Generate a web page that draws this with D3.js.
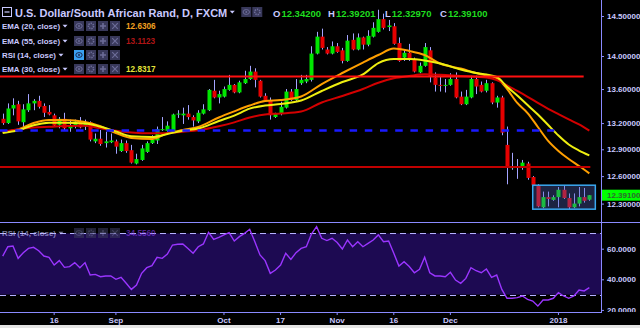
<!DOCTYPE html>
<html>
<head>
<meta charset="utf-8">
<script src="https://cdn.jsdelivr.net/npm/d3@7"></script>
<style>
  body { margin: 0; background: #000; }
  svg { display: block; }
  text { font-family: "Liberation Sans", Arial, sans-serif; }
</style>
</head>
<body>
<svg id="chart" width="640" height="328"></svg>
<script>
// USD/ZAR daily candles (first candle 2 Aug 2017)
const startDate = new Date(2017, 7, 2);
const opens = [13.25,13.20,13.37,13.42,13.21,13.35,13.43,13.46,13.40,13.33,
  13.29,13.18,13.25,13.14,13.17,13.22,13.16,13.21,12.99,13.02,
  12.97,12.98,12.99,12.88,12.97,12.89,12.74,12.78,12.87,12.97,
  13.00,13.12,13.11,13.11,13.30,13.29,13.31,13.27,13.22,13.31,
  13.35,13.58,13.50,13.51,13.59,13.65,13.56,13.67,13.72,13.81,
  13.70,13.52,13.47,13.27,13.31,13.38,13.57,13.47,13.67,13.69,
  13.71,14.03,14.24,14.08,14.03,14.12,14.07,13.94,14.20,14.08,
  14.23,14.14,14.24,14.30,14.46,14.36,14.37,14.16,13.98,14.04,
  13.96,13.80,13.88,14.07,13.74,13.65,13.64,13.65,13.72,13.51,
  13.42,13.50,13.72,13.65,13.58,13.67,13.44,13.50,12.95,12.70,
  12.70,12.70,12.74,12.59,12.50,12.26,12.37,12.34,12.37,12.45,
  12.36,12.26,12.30,12.37,12.342];
const highs = [13.31,13.43,13.49,13.46,13.42,13.54,13.48,13.52,13.43,13.41,
  13.31,13.27,13.32,13.24,13.24,13.27,13.24,13.22,13.08,13.12,
  13.10,13.08,13.01,13.01,13.00,12.95,12.85,12.95,12.99,13.06,
  13.16,13.27,13.22,13.31,13.35,13.38,13.41,13.29,13.35,13.42,
  13.60,13.71,13.58,13.63,13.77,13.66,13.70,13.82,13.88,13.85,
  13.71,13.55,13.50,13.32,13.45,13.60,13.60,13.72,13.77,13.77,
  14.12,14.30,14.34,14.11,14.18,14.16,14.10,14.26,14.28,14.28,
  14.24,14.32,14.42,14.58,14.53,14.45,14.41,14.23,14.08,14.15,
  13.98,13.92,14.16,14.11,13.80,13.76,13.72,13.79,13.80,13.57,
  13.59,13.76,13.76,13.69,13.71,13.68,13.52,13.52,13.16,12.86,
  12.79,12.78,12.76,12.60,12.51,12.43,12.43,12.39,12.48,12.50,
  12.41,12.41,12.48,12.47,12.39201];
const lows = [13.18,13.19,13.29,13.18,13.12,13.33,13.35,13.37,13.27,13.29,
  13.16,13.14,13.12,13.10,13.14,13.14,13.12,12.99,12.97,12.94,
  12.92,12.97,12.85,12.87,12.86,12.74,12.73,12.77,12.86,12.96,
  12.96,13.11,13.10,13.10,13.26,13.19,13.24,13.16,13.20,13.30,
  13.34,13.49,13.43,13.50,13.58,13.55,13.55,13.66,13.71,13.62,
  13.50,13.45,13.24,13.26,13.29,13.37,13.46,13.46,13.65,13.67,
  13.69,14.02,14.08,14.02,14.02,14.04,13.91,13.93,14.07,14.07,
  14.08,14.12,14.23,14.29,14.33,14.31,14.14,13.93,13.94,13.94,
  13.80,13.79,13.87,13.68,13.57,13.57,13.56,13.64,13.49,13.41,
  13.41,13.49,13.54,13.56,13.56,13.42,13.38,13.06,12.51,12.67,
  12.57,12.67,12.56,12.49,12.26,12.25,12.27,12.33,12.26,12.35,
  12.24,12.25,12.27,12.31,12.3297];
const closes = [13.20,13.37,13.41,13.22,13.36,13.43,13.46,13.39,13.32,13.30,
  13.17,13.25,13.14,13.17,13.22,13.15,13.21,13.01,13.02,12.96,
  12.99,13.00,12.93,12.97,12.88,12.75,12.79,12.91,12.97,13.01,
  13.13,13.13,13.17,13.30,13.31,13.31,13.27,13.23,13.32,13.36,
  13.59,13.50,13.54,13.60,13.65,13.56,13.68,13.72,13.81,13.71,
  13.51,13.47,13.29,13.31,13.39,13.57,13.47,13.60,13.71,13.72,
  14.03,14.24,14.10,14.03,14.12,14.05,13.94,14.19,14.08,14.23,
  14.14,14.25,14.35,14.46,14.35,14.38,14.15,13.94,14.04,13.96,
  13.81,13.88,14.11,13.75,13.65,13.64,13.65,13.72,13.50,13.42,
  13.51,13.72,13.63,13.57,13.67,13.44,13.50,13.09,12.71,12.70,
  12.71,12.75,12.58,12.50,12.27,12.37,12.35,12.37,12.45,12.36,
  12.26,12.30,12.37,12.33,12.391];

// moving averages, read at these candle positions
const emaIdx = [0,3,6,9,12,16,19,22,25,29,32,35,38,42,45,48,51,54,58,62,
  66,70,73,76,79,82,85,89,92,94,96,98,100,102,104,106,108,110,112,114];
const ema20 = [13.097,13.126,13.201,13.236,13.236,13.213,13.163,13.086,13.029,13.017,
  13.082,13.120,13.155,13.265,13.337,13.405,13.458,13.470,13.512,13.660,
  13.793,13.920,14.012,14.093,14.062,14.012,13.908,13.847,13.793,13.763,
  13.732,13.601,13.435,13.317,13.155,12.995,12.881,12.790,12.712,12.6306];
const ema30 = [13.086,13.117,13.176,13.203,13.205,13.195,13.157,13.104,13.049,13.040,
  13.074,13.112,13.137,13.224,13.287,13.368,13.405,13.423,13.464,13.577,
  13.684,13.775,13.914,13.963,13.963,13.945,13.908,13.835,13.793,13.775,
  13.745,13.628,13.524,13.411,13.300,13.178,13.057,12.955,12.886,12.8317];
const ema55 = [13.097,13.128,13.148,13.157,13.165,13.169,13.139,13.111,13.092,13.082,
  13.084,13.101,13.118,13.163,13.208,13.265,13.300,13.311,13.334,13.441,
  13.518,13.601,13.675,13.730,13.757,13.777,13.771,13.757,13.747,13.739,
  13.708,13.643,13.577,13.508,13.435,13.366,13.303,13.242,13.184,13.1123];

const rsi14 = [55.2,61.3,61.8,53.7,57.4,60.2,60.9,58.7,55.2,54.4,
  49.3,52.2,47.8,48.3,50.9,47.6,50.9,42.8,43.2,41.7,
  42.2,42.2,40.0,41.3,37.4,33.4,36.3,43.9,47.6,48.9,
  54.4,53.7,56.5,62.4,62.9,63.1,60.2,57.0,61.3,63.1,
  70.7,66.1,67.4,69.0,70.5,65.0,67.9,70.0,72.7,64.6,
  55.9,52.2,43.9,46.1,49.3,57.0,53.0,57.4,60.2,61.3,
  69.6,74.4,66.8,65.3,66.8,64.0,59.8,65.7,61.3,64.6,
  61.3,63.5,65.7,69.0,64.6,65.0,57.0,48.7,51.5,48.3,
  44.3,46.5,54.4,44.3,42.2,42.2,41.7,44.6,39.5,37.4,
  40.6,47.6,45.6,44.3,46.7,41.3,42.8,33.4,27.6,27.6,
  28.0,29.1,26.9,25.8,22.5,26.5,26.5,27.6,31.3,29.1,
  27.6,29.1,33.0,32.4,34.556];
const rsiBands = [70, 30];

const priceTicks = [14.5, 14.0, 13.6, 13.2, 12.9, 12.6, 12.3];
const rsiTicks = [60, 40, 20];
const tickDates = ["2017-08-16","2017-09-01","2017-10-02","2017-10-17","2017-11-01","2017-11-16","2017-12-01","2018-01-01"];
const tickLabels = ["16","Sep","Oct","17","Nov","16","Dec","2018"];

// drawings on the chart
const resistance = 13.75;
const support = 12.70;
const dashedLevel = 13.115;
const boxPrices = [12.24, 12.50];

chart();

function chart() {
  const svg = d3.select("#chart");
  const W = 640, H = 328;
  const axisX = 601;
  const priceBottom = 222, rsiTop = 222, rsiBottom = 312;
  const lav = "#c9c9ff", axisCol = "#8a8aff";

  svg.append("rect").attr("width", W).attr("height", H).attr("fill", "#000");

  // trading days (weekdays only) as categories
  const fmt = d3.timeFormat("%Y-%m-%d");
  const days = d3.timeDay.range(startDate, d3.timeDay.offset(startDate, 220))
    .filter(d => d.getDay() % 6 !== 0)
    .slice(0, closes.length)
    .map(fmt);

  const x = d3.scaleBand().domain(days).range([0.13, 591.9]);
  const cx = i => x(days[i]) + x.bandwidth() / 2;
  const y = d3.scaleLog().domain([12.103, 14.705]).range([priceBottom, 0]);
  const yR = d3.scaleLinear().domain([18.63, 77.45]).range([rsiBottom, rsiTop]);

  const defs = svg.append("defs");
  defs.append("clipPath").attr("id", "clipPrice")
    .append("rect").attr("x", 0).attr("y", 0).attr("width", axisX).attr("height", priceBottom);
  defs.append("clipPath").attr("id", "clipRsiAxis")
    .append("rect").attr("x", axisX).attr("y", rsiTop).attr("width", W - axisX).attr("height", rsiBottom - rsiTop);

  // ---------- price pane ----------
  const gP = svg.append("g").attr("clip-path", "url(#clipPrice)");

  const candles = d3.range(closes.length).map(i => ({i, o: opens[i], h: highs[i], l: lows[i], c: closes[i]}));

  gP.selectAll(null).data(candles).enter().append("line")
    .attr("x1", d => Math.round(cx(d.i)) + 0.5)
    .attr("x2", d => Math.round(cx(d.i)) + 0.5)
    .attr("y1", d => y(d.h)).attr("y2", d => y(d.l))
    .attr("stroke", "#a4a4ff").attr("stroke-width", 1);

  gP.selectAll(null).data(candles).enter().append("rect")
    .attr("x", d => Math.round(cx(d.i)) - 1.5)
    .attr("width", 4)
    .attr("y", d => y(Math.max(d.o, d.c)))
    .attr("height", d => Math.max(1, y(Math.min(d.o, d.c)) - y(Math.max(d.o, d.c))))
    .attr("fill", d => d.c >= d.o ? "#00e600" : "#e60000");

  // EMAs
  const emaLine = d3.line().x(d => cx(d[0])).y(d => y(d[1])).curve(d3.curveMonotoneX);
  const emaSeries = [
    {vals: ema20, color: "#ff9f00"},
    {vals: ema55, color: "#d30000"},
    {vals: ema30, color: "#eeee10"}
  ];
  emaSeries.forEach(s => {
    gP.append("path")
      .datum(emaIdx.map((k, j) => [k, s.vals[j]]))
      .attr("d", emaLine)
      .attr("fill", "none")
      .attr("stroke", s.color)
      .attr("stroke-width", 2);
  });

  // drawings
  gP.append("line").attr("x1", 0).attr("x2", cx(113) - 0.5)
    .attr("y1", y(resistance)).attr("y2", y(resistance))
    .attr("stroke", "#ff1010").attr("stroke-width", 2);
  gP.append("line").attr("x1", 0).attr("x2", cx(114) + 1)
    .attr("y1", y(support)).attr("y2", y(support))
    .attr("stroke", "#c00000").attr("stroke-width", 2);
  gP.append("line").attr("x1", 0).attr("x2", cx(107) + 1)
    .attr("y1", y(dashedLevel)).attr("y2", y(dashedLevel))
    .attr("stroke", "#1a1aff").attr("stroke-width", 2.4)
    .attr("stroke-dasharray", "7.5,7.7");
  gP.append("rect")
    .attr("x", cx(103)).attr("width", cx(114) + 6 - cx(103))
    .attr("y", y(boxPrices[1])).attr("height", y(boxPrices[0]) - y(boxPrices[1]))
    .attr("fill", "rgba(80,100,190,0.35)")
    .attr("stroke", "#3aa8f0").attr("stroke-width", 1.5);

  // ---------- RSI pane ----------
  const gR = svg.append("g");
  gR.append("rect").attr("x", 0).attr("width", axisX)
    .attr("y", yR(rsiBands[0])).attr("height", yR(rsiBands[1]) - yR(rsiBands[0]))
    .attr("fill", "#1d0a52");
  gR.selectAll(null).data(rsiBands).enter().append("line")
    .attr("x1", 0).attr("x2", axisX)
    .attr("y1", d => Math.round(yR(d)) + 0.5).attr("y2", d => Math.round(yR(d)) + 0.5)
    .attr("stroke", "#b4b0ff").attr("stroke-width", 1)
    .attr("stroke-dasharray", "6,4");
  gR.append("path")
    .datum(rsi14)
    .attr("d", d3.line().x((d, i) => cx(i)).y(d => yR(d)))
    .attr("fill", "none").attr("stroke", "#9a35ff").attr("stroke-width", 1.4);

  // ---------- frame and axes ----------
  svg.append("line").attr("x1", 0).attr("x2", W).attr("y1", priceBottom + 0.5).attr("y2", priceBottom + 0.5)
    .attr("stroke", axisCol).attr("stroke-width", 1.2);
  svg.append("line").attr("x1", 0).attr("x2", axisX).attr("y1", rsiBottom + 0.5).attr("y2", rsiBottom + 0.5)
    .attr("stroke", axisCol).attr("stroke-width", 1.2);
  svg.append("line").attr("x1", axisX + 0.5).attr("x2", axisX + 0.5).attr("y1", 0).attr("y2", rsiBottom + 1)
    .attr("stroke", axisCol).attr("stroke-width", 1);

  const yAxis = svg.append("g").attr("transform", `translate(${axisX},0)`)
    .call(d3.axisRight(y).tickValues(priceTicks).tickFormat(d3.format(".5f")).tickSize(3).tickSizeOuter(0));
  const rAxis = svg.append("g").attr("clip-path", "url(#clipRsiAxis)")
    .append("g").attr("transform", `translate(${axisX},0)`)
    .call(d3.axisRight(yR).tickValues(rsiTicks).tickFormat(d3.format(".4f")).tickSize(3).tickSizeOuter(0));
  const xAxis = svg.append("g").attr("transform", `translate(0,${rsiBottom})`)
    .call(d3.axisBottom(x).tickValues(tickDates).tickFormat((d, i) => tickLabels[i]).tickSize(3).tickSizeOuter(0));

  [yAxis, rAxis, xAxis].forEach(g => {
    g.select(".domain").remove();
    g.selectAll(".tick line").attr("stroke", axisCol);
    g.selectAll(".tick text").attr("fill", lav).attr("font-size", 8).attr("font-weight", "bold")
      .attr("font-family", "'Liberation Sans', Arial, sans-serif");
  });
  yAxis.selectAll(".tick text").attr("x", 6);
  rAxis.selectAll(".tick text").attr("x", 6);
  xAxis.selectAll(".tick text").attr("y", 5);

  // last price tag
  const lastClose = closes[closes.length - 1];
  svg.append("rect").attr("x", axisX + 1).attr("width", W - axisX - 1)
    .attr("y", y(lastClose) - 5.5).attr("height", 11).attr("fill", "#00ff00");
  svg.append("text").attr("x", axisX + 6).attr("y", y(lastClose) + 3)
    .attr("font-size", 8).attr("font-weight", "bold").attr("fill", "#2f6a2f")
    .text(d3.format(".5f")(lastClose));

  // bottom strip
  svg.append("rect").attr("x", 0).attr("y", 325).attr("width", W).attr("height", 3).attr("fill", "#e4e4e4");

  // ---------- header & legends ----------
  const n = closes.length - 1;
  svg.append("rect").attr("x", 2.5).attr("y", 7.5).attr("width", 9).attr("height", 9)
    .attr("fill", "none").attr("stroke", lav).attr("stroke-width", 1);
  svg.append("line").attr("x1", 4.5).attr("x2", 9.5).attr("y1", 12).attr("y2", 12)
    .attr("stroke", lav).attr("stroke-width", 1.2);
  const title = svg.append("text").attr("x", 15).attr("y", 16.5)
    .attr("font-size", 11).attr("font-weight", "bold").attr("fill", lav)
    .text("U.S. Dollar/South African Rand, D, FXCM");
  const tEnd = 15 + title.node().getComputedTextLength();
  drawCaret(svg, tEnd + 5, 12, lav);
  drawIcons(svg, [tEnd + 14, tEnd + 25], 7, 10, [false, false], ["eye", "gear"]);

  const ohlc = [["O", opens[n]], ["H", highs[n]], ["L", lows[n]], ["C", closes[n]]];
  const ohlcX = [273, 328, 385, 440];
  ohlc.forEach(([k, v], j) => {
    const t1 = svg.append("text").attr("x", ohlcX[j]).attr("y", 16.5)
      .attr("font-size", 9.5).attr("font-weight", "bold").attr("fill", lav).text(k);
    svg.append("text").attr("x", ohlcX[j] + t1.node().getComputedTextLength() + 1).attr("y", 16.5)
      .attr("font-size", 9.5).attr("font-weight", "bold").attr("fill", "#1fdc1f")
      .text(d3.format(".5f")(v));
  });

  const legendRows = [
    {label: "EMA (20, close)", value: d3.format(".4f")(ema20[ema20.length - 1]), color: "#f0a020", y: 26},
    {label: "EMA (55, close)", value: d3.format(".4f")(ema55[ema55.length - 1]), color: "#b01515", y: 41},
    {label: "RSI (14, close)", value: null, color: null, y: 55, active: true},
    {label: "EMA (30, close)", value: d3.format(".4f")(ema30[ema30.length - 1]), color: "#e4e43a", y: 69}
  ];
  legendRows.forEach(r => legendRow(svg, r, 1));
  legendRow(svg, {label: "RSI (14, close)", value: d3.format(".4f")(rsi14[n]), color: "#8a3cf0", y: 233}, 0.6);

  function legendRow(sel, r, op) {
    const g = sel.append("g").attr("opacity", op);
    const t = g.append("text").attr("x", 2).attr("y", r.y + 3)
      .attr("font-size", 7.9).attr("font-weight", "bold").attr("fill", lav).text(r.label);
    drawCaret(g, 2 + t.node().getComputedTextLength() + 5, r.y, lav);
    drawIcons(g, [74, 86, 98, 110], r.y - 5, 10, [!!r.active, false, false, false], ["eye", "gear", "plus", "cross"]);
    if (r.value) {
      g.append("text").attr("x", 126).attr("y", r.y + 3)
        .attr("font-size", 8.2).attr("font-weight", "bold").attr("fill", r.color).text(r.value);
    }
  }

  function drawCaret(sel, x0, yc, col) {
    sel.append("path").attr("d", `M${x0 - 2.5},${yc - 1.2}L${x0 + 2.5},${yc - 1.2}L${x0},${yc + 1.6}Z`).attr("fill", col);
  }

  function drawIcons(sel, xs, y0, s, active, kinds) {
    xs.forEach((x0, k) => {
      const on = active[k];
      sel.append("rect").attr("x", x0).attr("y", y0).attr("width", s).attr("height", s)
        .attr("fill", on ? "#3aa0f0" : "#38385a");
      const c = on ? "#1b2b55" : "#6c6c98";
      const mx = x0 + s / 2, my = y0 + s / 2;
      if (kinds[k] === "eye") {
        sel.append("ellipse").attr("cx", mx).attr("cy", my).attr("rx", 3.2).attr("ry", 2.4)
          .attr("fill", "none").attr("stroke", c).attr("stroke-width", 1);
        sel.append("circle").attr("cx", mx).attr("cy", my).attr("r", 1).attr("fill", c);
      } else if (kinds[k] === "gear") {
        sel.append("circle").attr("cx", mx).attr("cy", my).attr("r", 2.6)
          .attr("fill", "none").attr("stroke", c).attr("stroke-width", 1.6)
          .attr("stroke-dasharray", "1.4,0.9");
      } else if (kinds[k] === "plus") {
        sel.append("path").attr("d", `M${mx - 3},${my}H${mx + 3}M${mx},${my - 3}V${my + 3}`)
          .attr("stroke", c).attr("stroke-width", 1.6);
      } else {
        sel.append("path").attr("d", `M${mx - 2.8},${my - 2.8}L${mx + 2.8},${my + 2.8}M${mx + 2.8},${my - 2.8}L${mx - 2.8},${my + 2.8}`)
          .attr("stroke", c).attr("stroke-width", 1.2);
      }
    });
  }
}
</script>
</body>
</html>
